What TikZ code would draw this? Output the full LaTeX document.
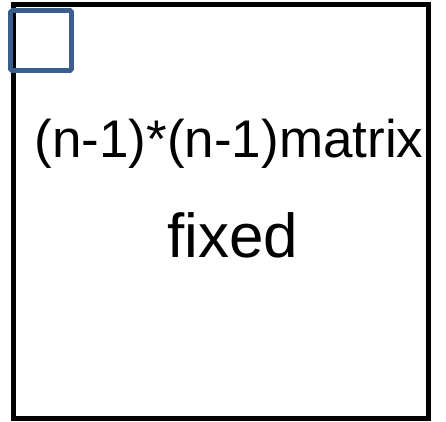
\documentclass[tikz,border=0pt]{standalone}
\usepackage{fontspec}
\setmainfont{Liberation Sans}
\definecolor{boxblue}{RGB}{59,94,140}
\tikzset{
  outerbox/.style={draw=black, line width=5pt},
  cornerbox/.style={draw=boxblue, line width=4.6pt, rounded corners=1.5pt},
  label/.style={inner sep=0pt, anchor=base}
}
\begin{document}
\begin{tikzpicture}[x=1pt,y=-1pt]
\useasboundingbox (0,0) rectangle (446,421);
\draw[outerbox] (13.5,4.7) rectangle (428,418.5);
\draw[cornerbox] (10.5,10.5) rectangle (71.5,70.5);
\node[label, font=\fontsize{53}{60}\selectfont] (t1) at (229,157) {(n-1)*(n-1)matrix};
\node[label, font=\fontsize{62}{70}\selectfont] (t2) at (232.5,257) {fixed};
\end{tikzpicture}
\end{document}
